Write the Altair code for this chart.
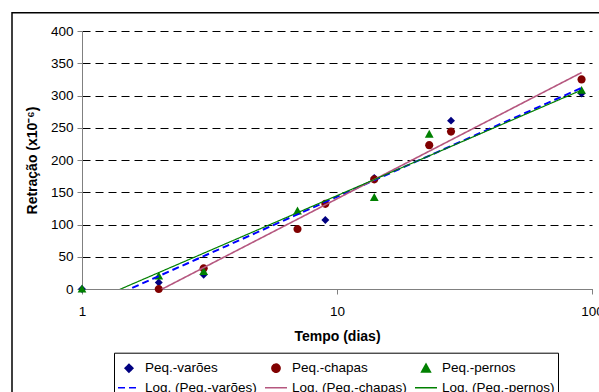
import altair as alt
import pandas as pd

# ---- data ----
series_names = ["Peq.-varões", "Peq.-chapas", "Peq.-pernos"]
trend_names = ["Log. (Peq.-varões)", "Log. (Peq.-chapas)", "Log. (Peq.-pernos)"]

varoes_t = [1, 2, 3, 9, 14, 28, 91]
varoes_v = [0, 10, 22, 107, 172, 261, 303]
chapas_t = [2, 3, 7, 9, 14, 23, 28, 91]
chapas_v = [0, 32, 93, 132, 170, 223, 244, 325]
pernos_t = [1, 2, 3, 7, 14, 23, 91]
pernos_v = [0, 20, 27, 121, 142, 240, 308]

x_ticks = [1, 10, 100]
y_ticks = [0, 50, 100, 150, 200, 250, 300, 350, 400]

rows = []
for name, ts, vs in zip(series_names, [varoes_t, chapas_t, pernos_t], [varoes_v, chapas_v, pernos_v]):
    for t, v in zip(ts, vs):
        rows.append({"t": t, "v": v, "legenda": name})
df = pd.DataFrame(rows)

# ---- styles ----
FONT = "Liberation Sans"
all_names = series_names + trend_names
colors = ["#000080", "#800000", "#008000", "#0000FF", "#B5577F", "#008000"]
diamond = "M0,-0.36L0.36,0L0,0.36L-0.36,0Z"
circle = "M0.37,0A0.37,0.37,0,1,1,-0.37,0A0.37,0.37,0,1,1,0.37,0Z"
triangle = "M0,-0.4L0.4,0.32L-0.4,0.32Z"
line_sym = "M-1,0H1"
shapes = [diamond, circle, triangle, line_sym, line_sym, line_sym]
dashes = [[1, 0], [1, 0], [1, 0], [7, 4], [1, 0], [1, 0]]

legend = alt.Legend(
    title=None, orient="none", legendX=32, legendY=321.7, columns=3,
    direction="horizontal",
    symbolSize=484, symbolStrokeWidth=1.5, labelFont=FONT, labelFontSize=13.5,
    labelColor="black", labelOffset=4, columnPadding=5, rowPadding=-3.5,
    padding=3, strokeColor="black", labelLimit=400,
)

color_scale = alt.Scale(domain=all_names, range=colors)
shape_scale = alt.Scale(domain=all_names, range=shapes)
dash_scale = alt.Scale(domain=all_names, range=dashes)

xscale = alt.Scale(type="log", domain=[1, 100], nice=False)
yscale = alt.Scale(domain=[0, 400], nice=False, zero=True)

xaxis = alt.Axis(
    values=x_ticks, format="d", grid=False, labelFlush=False,
    domainColor="#808080", tickColor="#808080", tickSize=5, labelPadding=10,
    labelFont=FONT, labelFontSize=13.5, labelColor="black",
    title="Tempo (dias)", titleFont=FONT, titleFontSize=14, titleFontWeight="bold",
    titleColor="black", titleY=47, titleBaseline="middle",
)
yaxis = alt.Axis(
    values=y_ticks, grid=True, gridDash=[8, 5], gridColor="#000000", gridWidth=1,
    labelFlush=False, domainColor="#808080", tickColor="#808080", tickSize=5,
    labelPadding=4, labelFont=FONT, labelFontSize=13.5, labelColor="black",
    title="Retração (x10⁻⁶)", titleFont=FONT, titleFontSize=14, titleFontWeight="bold",
    titleColor="black", titleAngle=270, titleX=-50, titleY=129,
    titleAlign="center", titleBaseline="middle",
)

x = alt.X("t:Q", scale=xscale, axis=xaxis)
y = alt.Y("v:Q", scale=yscale, axis=yaxis)

points = alt.Chart(df).mark_point(filled=True, size=484, opacity=1, strokeWidth=0).encode(
    x=x, y=y,
    color=alt.Color("legenda:N", scale=color_scale, legend=legend),
    shape=alt.Shape("legenda:N", scale=shape_scale, legend=legend),
)

lines = alt.Chart(df).transform_regression(
    "t", "v", method="log", groupby=["legenda"]
).transform_calculate(
    legenda='"Log. (" + datum.legenda + ")"'
).mark_line(clip=True).encode(
    x=x, y=y,
    color=alt.Color("legenda:N", scale=color_scale, legend=legend),
    strokeDash=alt.StrokeDash("legenda:N", scale=dash_scale, legend=legend),
    strokeWidth=alt.StrokeWidth("legenda:N", scale=alt.Scale(domain=trend_names, range=[2, 1.2, 1.5]), legend=None),
)

frame = alt.Chart(pd.DataFrame({"k": [0]})).mark_rect(
    fillOpacity=0, stroke="black", strokeWidth=1.5
).encode(
    x=alt.value(-70), x2=alt.value(525), y=alt.value(-18.3), y2=alt.value(380)
)

chart = alt.layer(frame, points, lines).properties(
    width=510, height=258,
    autosize=alt.AutoSizeParams(type="none"),
    padding={"left": 82, "top": 31, "right": 7, "bottom": 103},
    background="white",
).configure_view(stroke="transparent")

chart.save("out.html", embed_options={"renderer": "svg", "actions": False})
